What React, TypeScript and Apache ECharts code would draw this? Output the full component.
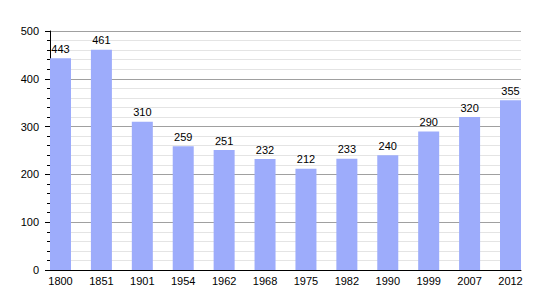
import React, { useEffect, useRef } from "react";
import * as echarts from "echarts";

const years = ["1800", "1851", "1901", "1954", "1962", "1968", "1975", "1982", "1990", "1999", "2007", "2012"];
const population = [443, 461, 310, 259, 251, 232, 212, 233, 240, 290, 320, 355];
const yMin = 0;
const yMax = 500;
const yInterval = 100;

export default function App() {
  const ref = useRef<HTMLDivElement>(null);
  useEffect(() => {
    if (!ref.current) return;
    const chart = echarts.init(ref.current, null, { renderer: "svg" });
    const font = "Liberation Sans, Arial, sans-serif";
    chart.setOption({
      animation: false,
      grid: [
        { left: 50, right: 29, top: 31, bottom: 30 },
        { left: 60.5, right: 39.5, top: 31, bottom: 30 },
      ],
      xAxis: [
        {
          type: "category",
          gridIndex: 0,
          data: years,
          axisLine: { show: true, lineStyle: { color: "#000", width: 1 } },
          axisTick: { show: false },
          axisLabel: { show: false },
        },
        {
          type: "category",
          gridIndex: 1,
          data: years,
          boundaryGap: false,
          axisLine: { show: false },
          axisTick: { show: false },
          axisLabel: { color: "#000", fontSize: 11, fontFamily: font, margin: 5 },
        },
      ],
      yAxis: [
        {
          type: "value",
          gridIndex: 0,
          min: yMin,
          max: yMax,
          interval: yInterval,
          axisLine: { show: true, lineStyle: { color: "#000", width: 1 } },
          axisTick: { show: true, length: 5, lineStyle: { color: "#000" } },
          minorTick: { show: true, splitNumber: 5, length: 3, lineStyle: { color: "#000" } },
          axisLabel: { color: "#000", fontSize: 11, fontFamily: font, margin: 11 },
          splitLine: { show: true, lineStyle: { color: "#a0a0a0", width: 1 } },
          minorSplitLine: { show: true, lineStyle: { color: "#e4e4e4", width: 1 } },
        },
        {
          type: "value",
          gridIndex: 1,
          min: yMin,
          max: yMax,
          interval: yInterval,
          show: false,
          splitLine: { show: false },
        },
      ],
      series: [
        {
          type: "bar",
          xAxisIndex: 1,
          yAxisIndex: 1,
          data: population,
          barWidth: 21,
          clip: false,
          itemStyle: { color: "#9dacfb" },
          label: {
            show: true,
            position: "top",
            distance: 4,
            color: "#000",
            fontSize: 11,
            fontFamily: font,
          },
        },
      ],
    });
    return () => chart.dispose();
  }, []);
  return <div ref={ref} style={{ width: 550, height: 300, margin: -8 }} />;
}
